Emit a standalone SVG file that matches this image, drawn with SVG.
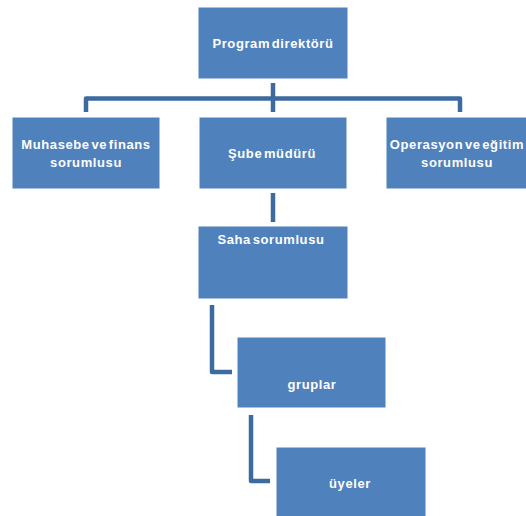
<svg xmlns="http://www.w3.org/2000/svg" width="526" height="516" viewBox="0 0 526 516">
<style>
.box{fill:#4f81bd;stroke:#ffffff;stroke-width:1}
.t{fill:#ffffff;font-family:"Liberation Sans",Arial,sans-serif;font-weight:bold;font-size:13px;letter-spacing:0.6px;word-spacing:-2.5px;text-anchor:middle}
.c{fill:none;stroke:#3d6b9f;stroke-width:4.5;stroke-linejoin:round}
</style>
<rect width="526" height="516" fill="#ffffff"/>
<g id="connectors">
<path class="c" d="M273 83 V112"/>
<path class="c" d="M86 112 V98.5 H460 V112"/>
<path class="c" d="M273 193 V222"/>
<path class="c" d="M212 305 V372 H232"/>
<path class="c" d="M251 415 V481 H270"/>
</g>
<g id="program">
<rect class="box" x="198" y="7" width="150" height="72"/>
<text class="t" x="273" y="47.5">Program direktörü</text>
</g>
<g id="muhasebe">
<rect class="box" x="12" y="117" width="148" height="72"/>
<text class="t" x="86" y="148.5">Muhasebe ve finans</text>
<text class="t" x="86" y="166.5">sorumlusu</text>
</g>
<g id="sube">
<rect class="box" x="199" y="117" width="148" height="72"/>
<text class="t" x="272" y="157.5">Şube müdürü</text>
</g>
<g id="operasyon">
<rect class="box" x="386" y="117" width="148" height="72"/>
<text class="t" x="457" y="148.5">Operasyon ve eğitim</text>
<text class="t" x="457" y="166.5">sorumlusu</text>
</g>
<g id="saha">
<rect class="box" x="198" y="226" width="150" height="73"/>
<text class="t" x="271" y="243.5">Saha sorumlusu</text>
</g>
<g id="gruplar">
<rect class="box" x="237" y="337" width="149" height="71"/>
<text class="t" x="312" y="388.5">gruplar</text>
</g>
<g id="uyeler">
<rect class="box" x="276" y="447" width="150" height="72"/>
<text class="t" x="350" y="487.5">üyeler</text>
</g>
</svg>
